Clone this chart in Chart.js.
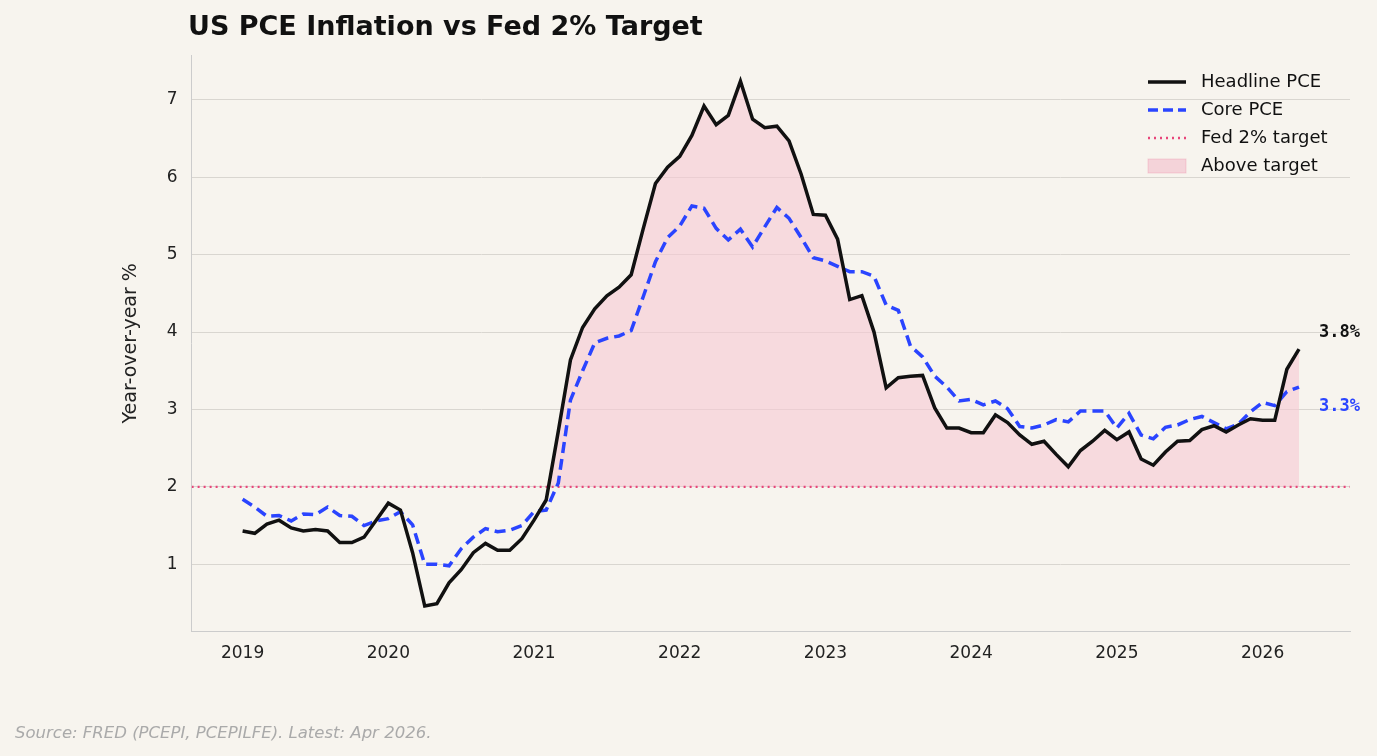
<!DOCTYPE html>
<html><head><meta charset="utf-8">
<script src="https://cdn.jsdelivr.net/npm/chart.js@4"></script>
<style>html,body{margin:0;background:#f7f4ee;}#wrap{width:1377px;height:756px;position:relative;}</style>
</head><body><div id="wrap"><canvas id="c" width="1377" height="756"></canvas></div>
<script>
const startYear = 2019;
const headline = [1.43,1.40,1.52,1.57,1.47,1.43,1.45,1.43,1.28,1.28,1.35,1.57,
1.79,1.70,1.15,0.46,0.49,0.76,0.93,1.15,1.27,1.18,1.18,1.33,
1.57,1.83,2.72,3.64,4.06,4.30,4.47,4.58,4.74,5.34,5.92,6.13,
6.27,6.54,6.92,6.68,6.80,7.24,6.75,6.64,6.66,6.47,6.04,5.52,
5.51,5.20,4.42,4.47,4.00,3.28,3.41,3.43,3.44,3.02,2.76,2.76,
2.70,2.70,2.93,2.83,2.67,2.55,2.59,2.42,2.26,2.47,2.59,2.73,
2.61,2.71,2.36,2.28,2.45,2.59,2.60,2.74,2.79,2.71,2.80,2.88,
2.86,2.86,3.52,3.78];
const core = [1.84,1.74,1.62,1.63,1.56,1.65,1.64,1.74,1.63,1.62,1.50,1.56,
1.59,1.68,1.51,1.00,1.00,0.98,1.20,1.35,1.46,1.42,1.44,1.50,
1.68,1.70,2.05,3.12,3.50,3.86,3.92,3.95,4.02,4.46,4.91,5.22,
5.37,5.63,5.60,5.34,5.19,5.33,5.10,5.36,5.61,5.47,5.22,4.96,
4.92,4.85,4.78,4.78,4.72,4.35,4.28,3.82,3.68,3.43,3.29,3.11,
3.13,3.06,3.11,3.01,2.78,2.76,2.80,2.87,2.84,2.98,2.98,2.98,
2.76,2.95,2.67,2.62,2.77,2.80,2.87,2.91,2.83,2.75,2.81,2.97,
3.09,3.05,3.23,3.29];
const target = 2;
const xTicks = [2019,2020,2021,2022,2023,2024,2025,2026];
const xs = headline.map((_,i)=>startYear + i/12);
const pts = arr => arr.map((v,i)=>({x:xs[i],y:v}));

const overlay = {
  id:'overlay',
  afterDraw(chart){
    const ctx=chart.ctx, xS=chart.scales.x, yS=chart.scales.y;
    const n=headline.length-1;
    ctx.save();
    ctx.font='bold 17px "DejaVu Sans Mono"';
    ctx.textBaseline='middle';
    ctx.fillStyle='#111';
    ctx.fillText(headline[n].toFixed(1)+'%', xS.getPixelForValue(xs[n])+20, yS.getPixelForValue(headline[n])-17);
    ctx.fillStyle='#2a44ff';
    ctx.fillText(core[n].toFixed(1)+'%', xS.getPixelForValue(xs[n])+20, yS.getPixelForValue(core[n])+20);
    // legend
    const lx=1148, ly=82, gap=28;
    ctx.font='18px "DejaVu Sans"';
    ctx.fillStyle='#111';
    const items=[['Headline PCE','#111',[],3.5],['Core PCE','#2a44ff',[10,5],3.5],['Fed 2% target','#e8457a',[2,4],2.5]];
    items.forEach((it,k)=>{
      const y=ly+k*gap;
      ctx.strokeStyle=it[1]; ctx.lineWidth=it[3]; ctx.setLineDash(it[2]);
      ctx.beginPath(); ctx.moveTo(lx,y); ctx.lineTo(lx+38,y); ctx.stroke();
      ctx.fillText(it[0], lx+53, y);
    });
    ctx.setLineDash([]);
    const y=ly+3*gap;
    ctx.fillStyle='rgba(240,170,190,0.45)'; ctx.strokeStyle='rgba(232,69,122,0.2)'; ctx.lineWidth=1;
    ctx.fillRect(lx,y-7,38,14); ctx.strokeRect(lx,y-7,38,14);
    ctx.fillStyle='#111'; ctx.fillText('Above target', lx+53, y);
    ctx.font='bold 27px "DejaVu Sans"'; ctx.textBaseline='alphabetic';
    ctx.fillText('US PCE Inflation vs Fed 2% Target', 188, 35);
    ctx.font='italic 16.5px "DejaVu Sans"'; ctx.fillStyle='#aaaaaa';
    ctx.fillText('Source: FRED (PCEPI, PCEPILFE). Latest: Apr 2026.', 15, 738);
    ctx.restore();
  }
};

new Chart(document.getElementById('c'),{
  type:'line',
  data:{datasets:[
    {label:'Above target',data:pts(headline),borderColor:'rgba(0,0,0,0)',borderWidth:0,pointRadius:0,
     fill:{target:{value:target},above:'rgba(246,200,212,0.6)',below:'rgba(0,0,0,0)'},order:5},
    {label:'Fed 2% target',data:[{x:2018.65,y:target},{x:2026.6,y:target}],borderColor:'#e8457a',borderWidth:2.2,borderDash:[2,4],pointRadius:0,fill:false,order:3},
    {label:'Core PCE',data:pts(core),borderColor:'#2a44ff',borderWidth:3.5,borderDash:[11,6],pointRadius:0,fill:false,order:2},
    {label:'Headline PCE',data:pts(headline),borderColor:'#111',borderWidth:3.5,pointRadius:0,fill:false,order:1}
  ]},
  options:{
    responsive:false,animation:false,
    layout:{padding:{top:55,right:27,bottom:86,left:120}},
    plugins:{legend:{display:false},tooltip:{enabled:false}},
    scales:{
      x:{type:'linear',min:2018.65,max:2026.6,
        afterBuildTicks:s=>{s.ticks=xTicks.map(v=>({value:v}));},
        ticks:{color:'#222',font:{size:17,family:'DejaVu Sans'},callback:v=>String(v),padding:6},
        grid:{display:false,drawTicks:true,tickLength:6,tickColor:'#ccc'},border:{color:'#ccc'}},
      y:{min:0.13,max:7.58,
        afterBuildTicks:s=>{s.ticks=[1,2,3,4,5,6,7].map(v=>({value:v}));},
        ticks:{color:'#222',font:{size:17,family:'DejaVu Sans'},padding:14},
        title:{display:true,text:'Year-over-year %',color:'#222',font:{size:19,family:'DejaVu Sans'},padding:{top:0,bottom:10}},
        grid:{color:'#d9d6d0',drawTicks:false},border:{color:'#ccc'}}
    }
  },
  plugins:[overlay]
});
</script></body></html>
